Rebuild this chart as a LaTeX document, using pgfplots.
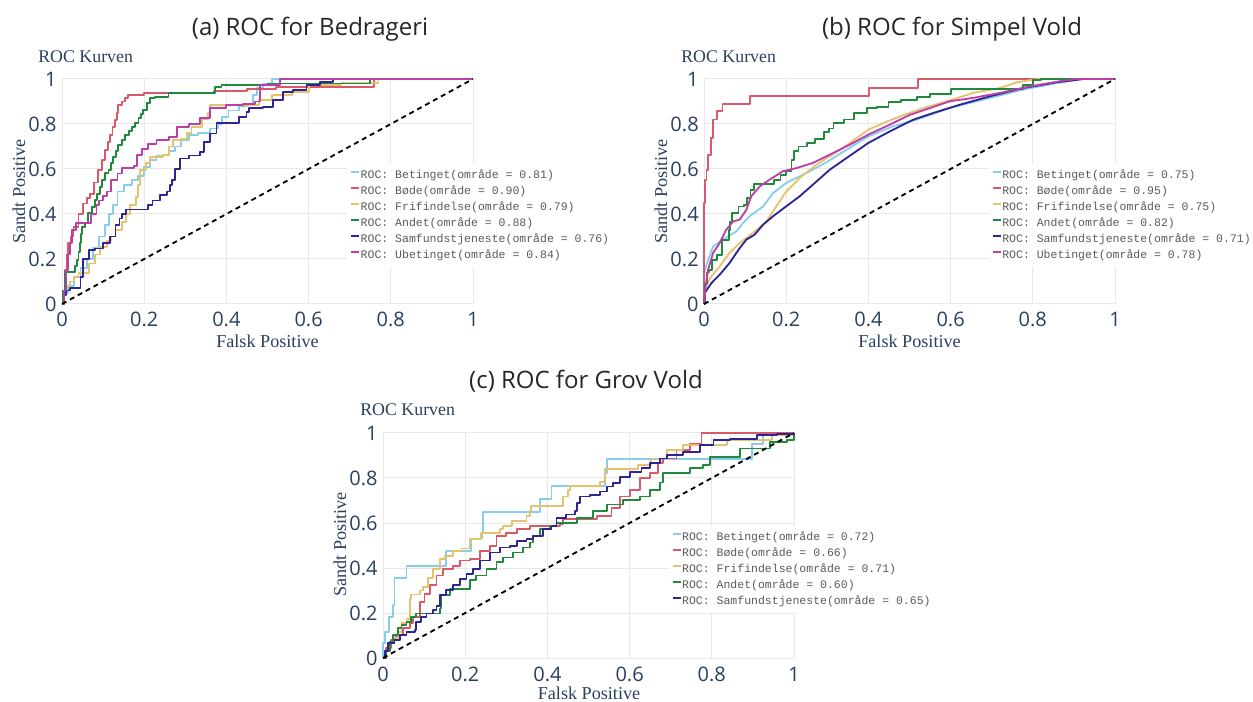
\documentclass[border=0pt]{standalone}
\usepackage{fontspec}
\setmainfont{Liberation Serif}
\newfontfamily\osans{Open Sans}
\newfontfamily\mono{Liberation Mono}
\usepackage{pgfplots}
\pgfplotsset{compat=1.18}

\definecolor{cBet}{HTML}{87CEEB}
\definecolor{cBod}{HTML}{D9596B}
\definecolor{cFri}{HTML}{E5C36D}
\definecolor{cAnd}{HTML}{1F8A3C}
\definecolor{cSam}{HTML}{2E2496}
\definecolor{cUbe}{HTML}{BC3FA8}
\definecolor{tickcol}{HTML}{2A3F5F}
\definecolor{gridcol}{HTML}{E8E8E8}
\definecolor{legtext}{HTML}{5A5A5A}

\pgfplotsset{
  rocaxis/.style={
    scale only axis, width=246.6pt, height=135pt,
    xmin=0, xmax=1, ymin=0, ymax=1, clip=false,
    xtick={0,0.2,0.4,0.6,0.8,1}, ytick={0,0.2,0.4,0.6,0.8,1},
    axis line style={draw=none}, major tick length=0pt,
    grid=major, major grid style={color=gridcol, line width=0.6pt},
    /pgf/number format/assume math mode=true,
    tick label style={font=\osans\fontsize{12}{14}\selectfont, text=tickcol},
    xticklabel style={anchor=base, yshift=-13.8pt},
    yticklabel style={anchor=east, inner xsep=0pt, xshift=-3pt},
    no markers, every axis plot/.append style={line width=1.1pt, line join=round},
    legend style={draw=none, fill=white, inner sep=2pt,
      font=\mono\fontsize{6.9}{8}\selectfont, text=legtext,
      cells={anchor=west}, row sep=0pt,
      nodes={inner xsep=0.3pt, inner ysep=0pt, text height=6.6pt, text depth=3pt}},
    legend image code/.code={\draw[##1, line width=1pt] (0pt,2pt) -- (4.8pt,2pt); \path (0pt,0pt);},
  },
  diag/.style={black, line width=1.1pt, dash pattern=on 3pt off 2.4pt, forget plot},
}

\begin{document}
\begin{tikzpicture}
\useasboundingbox (0,0) rectangle (751.8pt,420.6pt);

% titles
\node[anchor=base, font=\osans\fontsize{14.4}{17}\selectfont, text=black!85] at ({310*0.6pt},{(701-36)*0.6pt}) {(a) ROC for Bedrageri};
\node[anchor=base, font=\osans\fontsize{14.4}{17}\selectfont, text=black!85] at ({952*0.6pt},{(701-36)*0.6pt}) {(b) ROC for Simpel Vold};
\node[anchor=base, font=\osans\fontsize{14.4}{17}\selectfont, text=black!85] at ({586*0.6pt},{(701-389)*0.6pt}) {(c) ROC for Grov Vold};

\node[anchor=base west, inner sep=0pt, font=\fontsize{10.7}{12}\selectfont, text=tickcol] at ({38*0.6pt},{(701-63)*0.6pt}) {ROC Kurven};
\node[anchor=base west, inner sep=0pt, font=\fontsize{10.7}{12}\selectfont, text=tickcol] at ({681*0.6pt},{(701-63)*0.6pt}) {ROC Kurven};
\node[anchor=base west, inner sep=0pt, font=\fontsize{10.7}{12}\selectfont, text=tickcol] at ({360*0.6pt},{(701-416)*0.6pt}) {ROC Kurven};

\node[anchor=base, inner sep=0pt, font=\fontsize{10.9}{12}\selectfont, text=tickcol] at ({267.5*0.6pt},{(701-348)*0.6pt}) {Falsk Positive};
\node[anchor=base, inner sep=0pt, font=\fontsize{10.9}{12}\selectfont, text=tickcol] at ({909.5*0.6pt},{(701-348)*0.6pt}) {Falsk Positive};
\node[anchor=base, inner sep=0pt, font=\fontsize{10.9}{12}\selectfont, text=tickcol] at ({589*0.6pt},{(701-699)*0.6pt}) {Falsk Positive};

\node[anchor=base, rotate=90, inner sep=0pt, font=\fontsize{10.9}{12}\selectfont, text=tickcol] at ({25*0.6pt},{(701-191.5)*0.6pt}) {Sandt Positive};
\node[anchor=base, rotate=90, inner sep=0pt, font=\fontsize{10.9}{12}\selectfont, text=tickcol] at ({667*0.6pt},{(701-191.5)*0.6pt}) {Sandt Positive};
\node[anchor=base, rotate=90, inner sep=0pt, font=\fontsize{10.9}{12}\selectfont, text=tickcol] at ({346*0.6pt},{(701-544.5)*0.6pt}) {Sandt Positive};

% (a) Bedrageri
\begin{axis}[rocaxis, at={({62*0.6pt},{(701-304)*0.6pt})}, anchor=south west,
  legend style={at={(0.693,0.624)}, anchor=north west}]
\addplot[cBet, const plot] coordinates {(0,0) (0.005,0.05) (0.015,0.08) (0.03,0.12) (0.045,0.16) (0.06,0.2) (0.075,0.25) (0.09,0.3) (0.105,0.35) (0.115,0.4) (0.125,0.44) (0.135,0.5) (0.15,0.53) (0.17,0.55) (0.185,0.57) (0.2,0.61) (0.215,0.64) (0.23,0.66) (0.26,0.68) (0.275,0.7) (0.29,0.73) (0.31,0.75) (0.33,0.76) (0.36,0.78) (0.38,0.8) (0.39,0.83) (0.405,0.86) (0.43,0.88) (0.45,0.89) (0.465,0.93) (0.475,0.96) (0.49,0.98) (0.51,1) (1,1)};
\addlegendentry{ROC: Betinget(område = 0.81)}
\addplot[cBod, const plot] coordinates {(0,0) (0.003,0.06) (0.008,0.15) (0.012,0.22) (0.015,0.27) (0.022,0.3) (0.028,0.344) (0.04,0.4) (0.052,0.447) (0.06,0.47) (0.068,0.49) (0.078,0.54) (0.088,0.596) (0.097,0.64) (0.105,0.684) (0.111,0.72) (0.117,0.751) (0.123,0.785) (0.129,0.818) (0.133,0.85) (0.137,0.884) (0.145,0.9) (0.153,0.914) (0.161,0.929) (0.2,0.936) (0.26,0.94) (0.37,0.945) (0.45,0.955) (0.52,0.965) (0.76,1) (1,1)};
\addlegendentry{ROC: Bøde(område = 0.90)}
\addplot[cFri, const plot] coordinates {(0,0) (0.005,0.04) (0.01,0.08) (0.02,0.1) (0.03,0.12) (0.04,0.136) (0.065,0.18) (0.08,0.22) (0.092,0.255) (0.11,0.28) (0.12,0.3) (0.13,0.33) (0.145,0.366) (0.155,0.4) (0.165,0.44) (0.18,0.477) (0.185,0.53) (0.19,0.595) (0.205,0.625) (0.215,0.655) (0.246,0.662) (0.26,0.7) (0.27,0.73) (0.29,0.735) (0.305,0.76) (0.315,0.788) (0.34,0.82) (0.355,0.85) (0.36,0.884) (0.455,0.884) (0.48,0.907) (0.51,0.929) (0.56,0.944) (0.6,0.973) (0.68,0.984) (0.77,1) (1,1)};
\addlegendentry{ROC: Frifindelse(område = 0.79)}
\addplot[cAnd, const plot] coordinates {(0,0) (0.003,0.06) (0.007,0.144) (0.032,0.17) (0.036,0.196) (0.04,0.23) (0.044,0.27) (0.046,0.31) (0.048,0.344) (0.056,0.359) (0.064,0.403) (0.072,0.43) (0.08,0.462) (0.086,0.49) (0.092,0.521) (0.098,0.55) (0.105,0.581) (0.113,0.596) (0.119,0.625) (0.125,0.655) (0.131,0.68) (0.137,0.707) (0.145,0.73) (0.153,0.751) (0.162,0.77) (0.17,0.788) (0.178,0.805) (0.186,0.825) (0.192,0.845) (0.198,0.862) (0.206,0.892) (0.214,0.914) (0.226,0.921) (0.259,0.936) (0.372,0.963) (0.388,0.973) (0.5,0.98) (0.75,1) (1,1)};
\addlegendentry{ROC: Andet(område = 0.88)}
\addplot[cSam, const plot] coordinates {(0,0) (0.005,0.04) (0.01,0.06) (0.02,0.07) (0.04,0.07) (0.045,0.12) (0.052,0.2) (0.065,0.24) (0.08,0.247) (0.1,0.27) (0.117,0.3) (0.13,0.35) (0.14,0.38) (0.145,0.4) (0.155,0.42) (0.198,0.42) (0.21,0.44) (0.22,0.46) (0.238,0.484) (0.255,0.5) (0.262,0.53) (0.267,0.551) (0.275,0.6) (0.287,0.647) (0.31,0.66) (0.336,0.677) (0.345,0.72) (0.36,0.758) (0.376,0.803) (0.417,0.803) (0.43,0.83) (0.449,0.855) (0.455,0.87) (0.49,0.877) (0.514,0.907) (0.538,0.944) (0.563,0.952) (0.595,0.973) (0.628,0.988) (0.66,1) (1,1)};
\addlegendentry{ROC: Samfundstjeneste(område = 0.76)}
\addplot[cUbe, const plot] coordinates {(0,0) (0.005,0.06) (0.01,0.15) (0.015,0.22) (0.02,0.27) (0.025,0.33) (0.035,0.36) (0.064,0.36) (0.07,0.4) (0.084,0.44) (0.09,0.46) (0.1,0.48) (0.11,0.5) (0.12,0.55) (0.135,0.58) (0.145,0.603) (0.175,0.615) (0.182,0.662) (0.195,0.69) (0.21,0.71) (0.23,0.73) (0.26,0.744) (0.279,0.785) (0.31,0.8) (0.336,0.825) (0.36,0.87) (0.4,0.884) (0.44,0.89) (0.47,0.9) (0.482,0.973) (0.53,1) (1,1)};
\addlegendentry{ROC: Ubetinget(område = 0.84)}
\addplot[diag] coordinates {(0,0) (1,1)};
\end{axis}

% (b) Simpel Vold
\begin{axis}[rocaxis, at={({704*0.6pt},{(701-304)*0.6pt})}, anchor=south west,
  legend style={at={(0.692,0.624)}, anchor=north west}]
\addplot[cBet] coordinates {(0,0) (0,0.138) (0.01,0.197) (0.022,0.256) (0.046,0.286) (0.079,0.323) (0.095,0.36) (0.111,0.39) (0.144,0.434) (0.168,0.493) (0.2,0.538) (0.249,0.582) (0.298,0.63) (0.347,0.686) (0.4,0.745) (0.46,0.79) (0.517,0.819) (0.598,0.871) (0.679,0.908) (0.777,0.953) (0.858,0.982) (0.923,1) (1,1)};
\addlegendentry{ROC: Betinget(område = 0.75)}
\addplot[cBod, const plot] coordinates {(0,0) (0,0.45) (0.003,0.55) (0.006,0.597) (0.01,0.664) (0.018,0.738) (0.022,0.82) (0.032,0.856) (0.045,0.89) (0.111,0.926) (0.402,0.96) (0.52,1) (1,1)};
\addlegendentry{ROC: Bøde(område = 0.95)}
\addplot[cFri] coordinates {(0,0) (0.004,0.079) (0.018,0.123) (0.038,0.167) (0.062,0.227) (0.087,0.271) (0.119,0.316) (0.152,0.367) (0.176,0.434) (0.2,0.5) (0.233,0.56) (0.274,0.62) (0.314,0.665) (0.347,0.705) (0.4,0.775) (0.444,0.81) (0.493,0.845) (0.541,0.875) (0.598,0.905) (0.655,0.938) (0.72,0.96) (0.761,0.985) (0.801,0.997) (0.817,1) (1,1)};
\addlegendentry{ROC: Frifindelse(område = 0.75)}
\addplot[cAnd, const plot] coordinates {(0,0) (0.003,0.09) (0.007,0.14) (0.012,0.15) (0.019,0.196) (0.032,0.218) (0.044,0.284) (0.06,0.329) (0.064,0.366) (0.068,0.403) (0.084,0.433) (0.097,0.44) (0.105,0.47) (0.113,0.507) (0.121,0.533) (0.153,0.535) (0.17,0.55) (0.186,0.573) (0.2,0.59) (0.213,0.605) (0.213,0.64) (0.218,0.68) (0.23,0.7) (0.25,0.714) (0.27,0.735) (0.291,0.766) (0.305,0.78) (0.315,0.803) (0.34,0.82) (0.364,0.847) (0.397,0.87) (0.42,0.875) (0.449,0.899) (0.48,0.905) (0.518,0.921) (0.55,0.935) (0.6,0.957) (0.777,0.973) (0.8,0.996) (0.82,1) (1,1)};
\addlegendentry{ROC: Andet(område = 0.82)}
\addplot[cSam] coordinates {(0,0) (0.002,0.05) (0.018,0.093) (0.038,0.13) (0.062,0.182) (0.087,0.249) (0.103,0.286) (0.123,0.308) (0.144,0.353) (0.168,0.39) (0.2,0.434) (0.233,0.479) (0.274,0.545) (0.306,0.597) (0.347,0.649) (0.4,0.716) (0.452,0.767) (0.509,0.819) (0.558,0.849) (0.623,0.886) (0.696,0.923) (0.777,0.96) (0.858,0.985) (0.923,1) (1,1)};
\addlegendentry{ROC: Samfundstjeneste(område = 0.71)}
\addplot[cUbe] coordinates {(0,0) (0.004,0.079) (0.01,0.153) (0.022,0.227) (0.038,0.271) (0.054,0.33) (0.071,0.367) (0.087,0.375) (0.103,0.419) (0.115,0.479) (0.136,0.523) (0.16,0.553) (0.192,0.59) (0.225,0.604) (0.265,0.627) (0.314,0.671) (0.363,0.716) (0.4,0.753) (0.452,0.797) (0.501,0.841) (0.55,0.871) (0.598,0.901) (0.655,0.916) (0.72,0.938) (0.793,0.967) (0.866,0.99) (0.906,1) (1,1)};
\addlegendentry{ROC: Ubetinget(område = 0.78)}
\addplot[diag] coordinates {(0,0) (1,1)};
\end{axis}

% (c) Grov Vold
\begin{axis}[rocaxis, at={({383*0.6pt},{(701-658)*0.6pt})}, anchor=south west,
  legend style={at={(0.694,0.587)}, anchor=north west}]
\addplot[cBet, const plot] coordinates {(0,0) (0,0.066) (0.005,0.117) (0.015,0.183) (0.024,0.235) (0.028,0.355) (0.057,0.41) (0.154,0.474) (0.215,0.531) (0.24,0.557) (0.243,0.648) (0.381,0.707) (0.41,0.765) (0.54,0.821) (0.544,0.883) (0.897,0.95) (0.925,1) (1,1)};
\addlegendentry{ROC: Betinget(område = 0.72)}
\addplot[cBod, const plot] coordinates {(0,0) (0.008,0.044) (0.02,0.08) (0.032,0.103) (0.049,0.132) (0.065,0.154) (0.073,0.183) (0.089,0.249) (0.101,0.286) (0.114,0.323) (0.13,0.367) (0.146,0.396) (0.17,0.41) (0.187,0.433) (0.211,0.44) (0.235,0.477) (0.26,0.499) (0.276,0.543) (0.3,0.557) (0.325,0.572) (0.357,0.587) (0.43,0.594) (0.438,0.616) (0.52,0.631) (0.556,0.667) (0.576,0.718) (0.6,0.748) (0.625,0.799) (0.649,0.821) (0.67,0.865) (0.682,0.887) (0.714,0.924) (0.747,0.953) (0.775,1) (1,1)};
\addlegendentry{ROC: Bøde(område = 0.66)}
\addplot[cFri, const plot] coordinates {(0,0) (0.004,0.03) (0.012,0.066) (0.024,0.088) (0.037,0.117) (0.045,0.154) (0.057,0.173) (0.065,0.264) (0.069,0.282) (0.089,0.3) (0.097,0.315) (0.11,0.355) (0.122,0.396) (0.138,0.44) (0.15,0.455) (0.17,0.477) (0.191,0.487) (0.211,0.528) (0.239,0.557) (0.284,0.572) (0.292,0.587) (0.313,0.609) (0.349,0.63) (0.357,0.652) (0.36,0.675) (0.438,0.718) (0.45,0.748) (0.455,0.765) (0.528,0.784) (0.54,0.839) (0.62,0.858) (0.653,0.887) (0.69,0.924) (0.73,0.946) (0.836,0.968) (0.946,0.99) (1,1)};
\addlegendentry{ROC: Frifindelse(område = 0.71)}
\addplot[cAnd, const plot] coordinates {(0,0) (0.008,0.03) (0.016,0.073) (0.024,0.103) (0.037,0.132) (0.045,0.147) (0.057,0.161) (0.069,0.183) (0.081,0.198) (0.138,0.22) (0.142,0.279) (0.162,0.308) (0.211,0.345) (0.227,0.367) (0.252,0.396) (0.276,0.425) (0.292,0.447) (0.317,0.469) (0.341,0.491) (0.357,0.513) (0.365,0.543) (0.381,0.572) (0.406,0.587) (0.422,0.601) (0.471,0.623) (0.511,0.653) (0.544,0.682) (0.584,0.704) (0.625,0.718) (0.649,0.748) (0.674,0.78) (0.682,0.821) (0.747,0.843) (0.779,0.858) (0.795,0.894) (0.868,0.931) (0.942,0.96) (0.982,0.968) (1,1)};
\addlegendentry{ROC: Andet(område = 0.60)}
\addplot[cSam, const plot] coordinates {(0,0) (0.004,0.03) (0.012,0.066) (0.028,0.08) (0.041,0.103) (0.057,0.117) (0.077,0.125) (0.081,0.161) (0.093,0.183) (0.106,0.198) (0.122,0.213) (0.13,0.232) (0.138,0.279) (0.154,0.301) (0.17,0.323) (0.187,0.352) (0.203,0.374) (0.219,0.396) (0.235,0.433) (0.26,0.469) (0.284,0.491) (0.308,0.499) (0.325,0.521) (0.349,0.528) (0.365,0.543) (0.39,0.572) (0.41,0.587) (0.422,0.623) (0.446,0.638) (0.467,0.653) (0.471,0.689) (0.479,0.718) (0.503,0.726) (0.528,0.74) (0.544,0.762) (0.56,0.777) (0.576,0.806) (0.6,0.828) (0.629,0.843) (0.649,0.865) (0.674,0.887) (0.69,0.902) (0.73,0.916) (0.771,0.946) (0.804,0.968) (0.844,0.975) (0.909,0.99) (0.958,0.997) (1,1)};
\addlegendentry{ROC: Samfundstjeneste(område = 0.65)}
\addplot[diag] coordinates {(0,0) (1,1)};
\end{axis}
\end{tikzpicture}
\end{document}
